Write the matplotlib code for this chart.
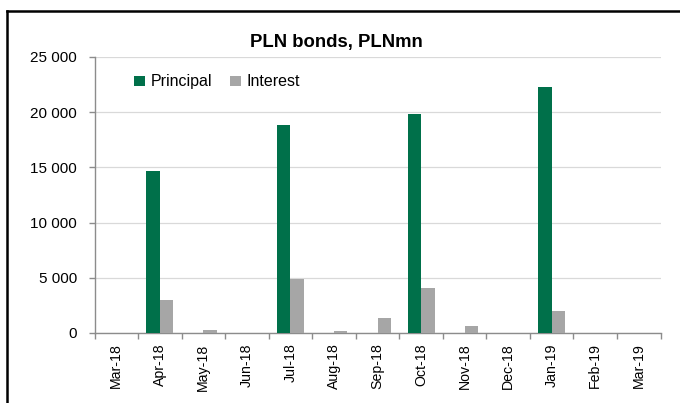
import matplotlib
matplotlib.use("Agg")
import matplotlib.pyplot as plt
from matplotlib.lines import Line2D
from matplotlib.ticker import FuncFormatter, FixedLocator
import numpy as np

plt.rcParams['font.family'] = ['Liberation Sans', 'DejaVu Sans']

months = ["Mar-18", "Apr-18", "May-18", "Jun-18", "Jul-18", "Aug-18", "Sep-18",
          "Oct-18", "Nov-18", "Dec-18", "Jan-19", "Feb-19", "Mar-19"]
principal = [0, 14700, 0, 0, 18800, 0, 0, 19800, 0, 0, 22300, 0, 0]
interest = [0, 3000, 250, 0, 4850, 150, 1400, 4050, 600, 0, 2000, 0, 0]

green = "#00704A"
grey = "#A6A6A6"
axis_grey = "#8C8C8C"

fig = plt.figure(figsize=(6.8, 4.03), dpi=100)
ax = fig.add_axes([94.5 / 680, 1 - 333 / 403, (660.5 - 94.5) / 680, (333 - 57) / 403])

x = np.arange(len(months))
w = 0.31
ax.bar(x - w / 2, principal, width=w, color=green, label="Principal", zorder=3)
ax.bar(x + w / 2, interest, width=w, color=grey, label="Interest", zorder=3)

ax.set_xlim(-0.5, len(months) - 0.5)
ax.set_ylim(0, 25000)
ax.set_yticks(np.arange(0, 25001, 5000))
ax.yaxis.set_major_formatter(FuncFormatter(lambda v, p: f"{int(v):,}".replace(",", " ")))
ax.grid(axis="y", color="#D9D9D9", linewidth=0.9, zorder=0)
ax.set_axisbelow(True)

ax.set_xticks(x)
ax.set_xticklabels(months, rotation=90)
ax.xaxis.set_minor_locator(FixedLocator(np.arange(-0.5, len(months), 1.0)))
ax.tick_params(axis="x", which="major", length=0, pad=7.5, labelsize=10.2)
ax.tick_params(axis="x", which="minor", length=4, color=axis_grey, width=1)
ax.tick_params(axis="y", length=4.5, color=axis_grey, width=1, labelsize=11, pad=8)

for s in ("top", "right"):
    ax.spines[s].set_visible(False)
for s in ("left", "bottom"):
    ax.spines[s].set_color(axis_grey)
    ax.spines[s].set_linewidth(1)

leg = ax.legend(loc="upper left", bbox_to_anchor=(0.059, 0.96), ncol=2, frameon=False,
                fontsize=11.5, handlelength=0.7, handleheight=0.6, handletextpad=0.35,
                columnspacing=1.1, borderaxespad=0)

fig.text(336 / 680, 1 - 42 / 403, "PLN bonds, PLNmn", ha="center", va="center",
         fontsize=13.3, fontweight="bold")

# outer frame: left and top rules
fig.add_artist(Line2D([7 / 680, 7 / 680], [0, 1 - 11 / 403], color="black", lw=1.8,
                      transform=fig.transFigure))
fig.add_artist(Line2D([7 / 680, 1], [1 - 11 / 403, 1 - 11 / 403], color="black", lw=1.8,
                      transform=fig.transFigure))

fig.savefig("out.png", dpi=100)
